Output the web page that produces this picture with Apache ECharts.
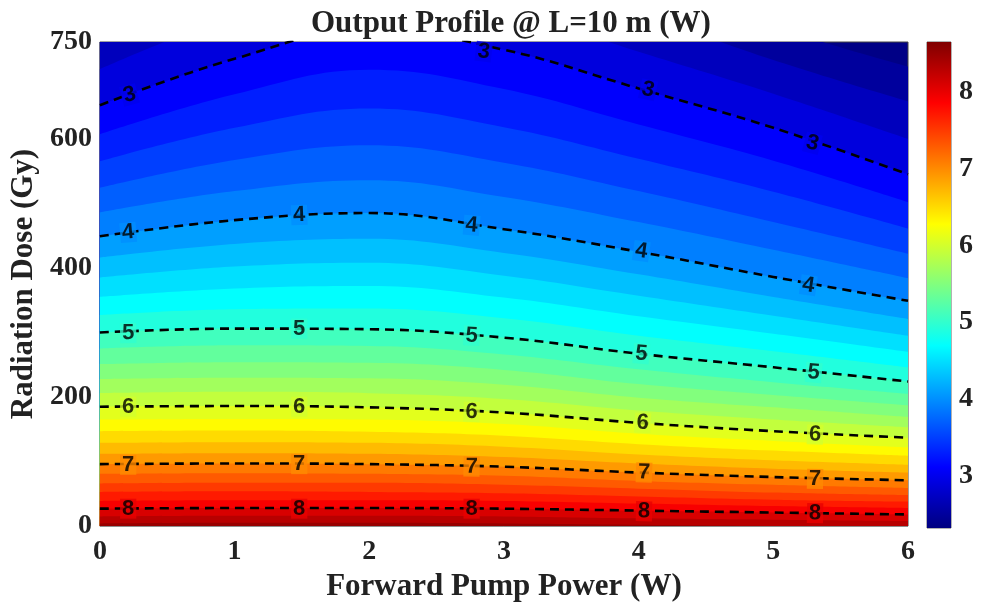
<!DOCTYPE html>
<html>
<head>
<meta charset="utf-8">
<script src="https://cdn.jsdelivr.net/npm/echarts@6/dist/echarts.min.js"></script>
<style>
  html, body { margin: 0; padding: 0; background: #fff; }
  #chart { width: 989px; height: 607px; }
</style>
</head>
<body>
<div id="chart"></div>
<script>
// x positions where each contour was read (W)
const pumpPower = [0, 1, 2, 3, 4, 5, 6]

// filled contour levels (W of output) and the dose (Gy) where each level sits, per pump power
const fillLevels = [2.4, 2.6, 2.8, 3.0, 3.2, 3.4, 3.6, 3.8, 4.0, 4.2, 4.4, 4.6, 4.8, 5.0, 5.2, 5.4,
  5.6, 5.8, 6.0, 6.2, 6.4, 6.6, 6.8, 7.0, 7.2, 7.4, 7.6, 7.8, 8.0, 8.2, 8.4]
const levelDose = [
  [830, 930, 980, 930, 860, 775, 712],
  [770, 860, 910, 865, 795, 722, 658],
  [708, 790, 840, 800, 735, 670, 600],
  [652, 724, 770, 738, 678, 617, 545],
  [607, 669, 707, 677, 622, 566, 502],
  [565, 617, 647, 618, 569, 518, 461],
  [524, 567, 590, 563, 519, 471, 422],
  [486, 519, 536, 510, 471, 428, 384],
  [449, 474, 485, 460, 425, 386, 349],
  [416, 437, 445, 423, 390, 355, 321],
  [385, 402, 408, 388, 357, 326, 295],
  [355, 368, 372, 354, 325, 298, 270],
  [327, 336, 337, 322, 295, 271, 246],
  [300, 306, 305, 292, 267, 246, 224],
  [275, 280, 279, 266, 243, 223, 205],
  [251, 254, 253, 242, 220, 203, 187],
  [228, 230, 229, 219, 199, 184, 169],
  [206, 208, 206, 197, 179, 165, 153],
  [185, 186, 184, 176, 160, 147, 137],
  [165, 166, 165, 158, 143, 132, 122],
  [147, 148, 146, 140, 127, 117, 109],
  [129, 130, 129, 123, 111, 102, 95],
  [112, 113, 112, 107, 97, 89, 83],
  [96, 97, 96, 92, 83, 76, 71],
  [81, 82, 81, 78, 70, 64, 59],
  [66, 67, 67, 64, 58, 52, 48],
  [53, 54, 53, 51, 46, 41, 38],
  [39, 40, 40, 39, 35, 31, 28],
  [27, 28, 28, 27, 24, 21, 18],
  [15, 16, 16, 15, 12, 10, 8],
  [4, 5, 5, 4, 2, 0, -3]
]

// dashed labelled contours
const lineLevels = [3, 4, 5, 6, 7, 8]
// [pump power, dose, level] of the inline labels
const labelSpots = [
  [0.22, 668, 3], [2.85, 735, 3], [4.07, 676, 3], [5.29, 593, 3],
  [0.21, 455, 4], [1.48, 482, 4], [2.76, 466, 4], [4.02, 426, 4], [5.26, 373, 4],
  [0.21, 299, 5], [1.48, 306, 5], [2.76, 295, 5], [4.02, 267, 5], [5.3, 238, 5],
  [0.21, 185, 6], [1.48, 185, 6], [2.76, 177, 6], [4.03, 160, 6], [5.31, 142, 6],
  [0.21, 95, 7], [1.48, 96, 7], [2.76, 92, 7], [4.04, 83, 7], [5.31, 73, 7],
  [0.21, 27, 8], [1.48, 27, 8], [2.76, 27, 8], [4.04, 23, 8], [5.31, 20, 8]
]

// colour scale limits
const colorRange = [2.32, 8.65]

const serif = 'Liberation Serif'

function jet(v) {
  const t = (v - colorRange[0]) / (colorRange[1] - colorRange[0])
  const c = x => Math.round(255 * Math.max(0, Math.min(1, x)))
  const r = c(Math.min(4 * t - 1.5, -4 * t + 4.5))
  const g = c(Math.min(4 * t - 0.5, -4 * t + 3.5))
  const b = c(Math.min(4 * t + 0.5, -4 * t + 2.5))
  return 'rgb(' + r + ',' + g + ',' + b + ')'
}

function curve(row) {
  return pumpPower.map((p, i) => [p, levelDose[row][i]])
}

const series = []

// filled bands: each level paints everything below its curve
fillLevels.forEach((lv, i) => {
  series.push({
    type: 'line',
    xAxisIndex: 0,
    yAxisIndex: 0,
    data: curve(i),
    smooth: 0.4,
    symbol: 'none',
    silent: true,
    z: 2,
    lineStyle: { width: 0 },
    areaStyle: { color: jet(lv + 0.1), opacity: 1 }
  })
})

// dashed contour lines
lineLevels.forEach(lv => {
  series.push({
    type: 'line',
    xAxisIndex: 0,
    yAxisIndex: 0,
    data: curve(fillLevels.indexOf(lv)),
    smooth: 0.4,
    symbol: 'none',
    silent: true,
    z: 5,
    lineStyle: { color: '#000', width: 2.6, type: [9, 6] }
  })
})

// inline labels (rotation filled in once the grid exists)
const labelSeriesIndex = series.length
series.push({
  type: 'scatter',
  xAxisIndex: 0,
  yAxisIndex: 0,
  symbolSize: 0,
  silent: true,
  z: 6,
  data: labelSpots.map(p => ({
    value: p,
    label: { backgroundColor: jet(p[2]) }
  })),
  label: {
    show: true,
    position: 'inside',
    formatter: p => String(p.value[2]),
    fontFamily: 'Liberation Sans',
    fontWeight: 'bold',
    fontSize: 22,
    lineHeight: 20,
    color: '#000',
    padding: [0, 2]
  }
})

// colour bar
series.push({
  type: 'bar',
  xAxisIndex: 1,
  yAxisIndex: 1,
  stack: 'cb',
  barWidth: '100%',
  silent: true,
  data: [colorRange[0]],
  itemStyle: { color: 'transparent' }
})
series.push({
  type: 'bar',
  xAxisIndex: 1,
  yAxisIndex: 1,
  stack: 'cb',
  barWidth: '100%',
  silent: true,
  data: [colorRange[1] - colorRange[0]],
  itemStyle: {
    color: new echarts.graphic.LinearGradient(0, 0, 0, 1, [
      { offset: 0, color: 'rgb(128,0,0)' },
      { offset: 0.125, color: 'rgb(255,0,0)' },
      { offset: 0.375, color: 'rgb(255,255,0)' },
      { offset: 0.625, color: 'rgb(0,255,255)' },
      { offset: 0.875, color: 'rgb(0,0,255)' },
      { offset: 1, color: 'rgb(0,0,128)' }
    ])
  }
})

const chart = echarts.init(document.getElementById('chart'))
chart.setOption({
  animation: false,
  backgroundColor: '#fff',
  title: {
    text: 'Output Profile @ L=10 m (W)',
    left: 306,
    top: 3,
    textStyle: { fontFamily: serif, fontWeight: 'bold', fontSize: 31, color: '#222' }
  },
  grid: [
    {
      left: 98, right: 81, top: 42, bottom: 79,
      show: true,
      backgroundColor: jet(2.36),
      borderColor: '#444',
      borderWidth: 1
    },
    {
      left: 927, width: 24, top: 42, bottom: 79,
      show: true,
      borderColor: '#666',
      borderWidth: 1
    }
  ],
  xAxis: [
    {
      type: 'value',
      gridIndex: 0,
      min: 0,
      max: 6,
      interval: 1,
      name: 'Forward Pump Power (W)',
      nameLocation: 'middle',
      nameGap: 43,
      nameTextStyle: { fontFamily: serif, fontWeight: 'bold', fontSize: 31, color: '#222' },
      axisLine: { show: false },
      axisTick: { show: false },
      splitLine: { show: false },
      axisLabel: { fontFamily: serif, fontWeight: 'bold', fontSize: 28, color: '#222', margin: 12 }
    },
    {
      type: 'category',
      gridIndex: 1,
      data: ['cb'],
      show: false
    }
  ],
  yAxis: [
    {
      type: 'value',
      gridIndex: 0,
      min: 0,
      max: 750,
      interval: 200,
      name: 'Radiation Dose (Gy)',
      nameLocation: 'middle',
      nameGap: 46,
      nameTextStyle: { fontFamily: serif, fontWeight: 'bold', fontSize: 31, color: '#222' },
      axisLine: { show: false },
      axisTick: { show: false },
      splitLine: { show: false },
      axisLabel: { fontFamily: serif, fontWeight: 'bold', fontSize: 28, color: '#222', margin: 8 }
    },
    {
      type: 'value',
      gridIndex: 1,
      position: 'right',
      min: colorRange[0],
      max: colorRange[1],
      axisLine: { show: false },
      axisTick: { show: true, inside: true, length: 4, lineStyle: { color: '#444' } },
      splitLine: { show: false },
      axisLabel: {
        fontFamily: serif, fontWeight: 'bold', fontSize: 28, color: '#222', margin: 8,
        showMinLabel: false, showMaxLabel: false
      }
    }
  ],
  series: series
})

// tilt each label along its contour, using the slope between neighbouring read points
const labelData = labelSpots.map(p => {
  const row = levelDose[fillLevels.indexOf(p[2])]
  const k = Math.min(pumpPower.length - 2, Math.floor(p[0]))
  const a = chart.convertToPixel({ gridIndex: 0 }, [pumpPower[k], row[k]])
  const b = chart.convertToPixel({ gridIndex: 0 }, [pumpPower[k + 1], row[k + 1]])
  const angle = -Math.atan2(b[1] - a[1], b[0] - a[0]) * 180 / Math.PI
  return { value: p, label: { backgroundColor: jet(p[2]), rotate: Math.round(angle * 0.8) } }
})
const upd = series.map(() => ({}))
upd[labelSeriesIndex] = { data: labelData }
chart.setOption({ series: upd })
</script>
</body>
</html>
